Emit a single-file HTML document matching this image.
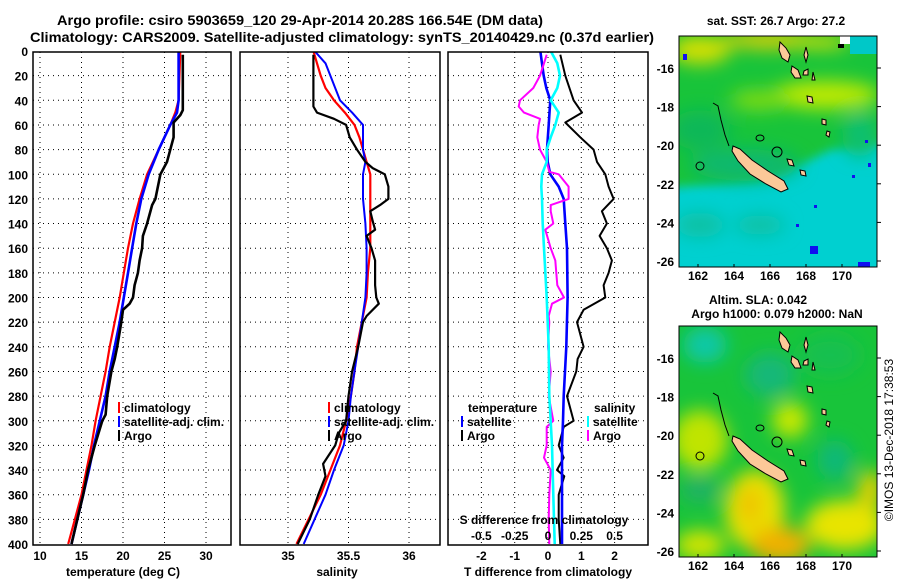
<!DOCTYPE html>
<html><head><meta charset="utf-8"><style>
body{margin:0;background:#fff;}
svg{display:block;font-family:"Liberation Sans",sans-serif;font-weight:bold;}
text{font-weight:bold;}
</style></head><body>
<svg id="fig" width="900" height="580" viewBox="0 0 900 580" xmlns="http://www.w3.org/2000/svg">
<defs>
<filter id="blur1" x="-50%" y="-50%" width="200%" height="200%"><feGaussianBlur stdDeviation="9"/></filter>
<filter id="blur2" x="-50%" y="-50%" width="200%" height="200%"><feGaussianBlur stdDeviation="5"/></filter>
<clipPath id="clipM1"><rect x="679" y="36" width="198" height="231"/></clipPath>
<clipPath id="clipM2"><rect x="679" y="326" width="198" height="231"/></clipPath>
<clipPath id="clipP1"><rect x="33" y="52" width="198" height="493"/></clipPath>
<clipPath id="clipP2"><rect x="240" y="52" width="200" height="493"/></clipPath>
<clipPath id="clipP3"><rect x="448" y="52" width="200" height="493"/></clipPath>
</defs>
<g>
<text x="300" y="25" font-size="14" text-anchor="middle" textLength="486" lengthAdjust="spacingAndGlyphs">Argo profile: csiro 5903659_120 29-Apr-2014 20.28S 166.54E (DM data)</text>
<text x="342" y="42" font-size="14" text-anchor="middle" textLength="624" lengthAdjust="spacingAndGlyphs">Climatology: CARS2009. Satellite-adjusted climatology: synTS_20140429.nc (0.37d earlier)</text>
</g>
<g id="grid"></g>
<g id="series"></g>
<g id="frames"></g>
<g id="labels" font-size="12"></g>

<!-- Map 1 -->
<g clip-path="url(#clipM1)">
<rect x="679" y="36" width="198" height="231" fill="#18c43a"/>
<g filter="url(#blur2)">
<polygon points="640,300 640,190 700,185 760,180 800,165 830,150 900,140 900,300" fill="#00d0d0"/>
</g>
<g filter="url(#blur1)">
<ellipse cx="700" cy="50" rx="30" ry="14" fill="#d8e000"/>
<ellipse cx="770" cy="40" rx="50" ry="8" fill="#f0d000"/>
<ellipse cx="820" cy="42" rx="30" ry="6" fill="#e8e000"/>
<ellipse cx="825" cy="95" rx="55" ry="14" fill="#c0ea00"/>
<ellipse cx="760" cy="100" rx="30" ry="10" fill="#80dc18"/>
<ellipse cx="700" cy="130" rx="30" ry="20" fill="#10b858"/>
<ellipse cx="745" cy="165" rx="55" ry="16" fill="#08b870"/>
<ellipse cx="860" cy="135" rx="18" ry="22" fill="#10c070"/>
<ellipse cx="700" cy="225" rx="25" ry="12" fill="#10c0a0"/>
<ellipse cx="760" cy="225" rx="25" ry="10" fill="#10c0a0"/>
</g>
<rect x="840" y="36" width="37" height="8" fill="#ffffff"/>
<rect x="850" y="36" width="27" height="18" fill="#00c8c8"/>
<rect x="838" y="44" width="6" height="4" fill="#000"/>
<rect x="683" y="54" width="4" height="6" fill="#1010f0"/>
<rect x="810" y="246" width="8" height="8" fill="#1010f0"/>
<rect x="858" y="262" width="12" height="5" fill="#1010f0"/>
<rect x="814" y="205" width="3" height="3" fill="#1010f0"/>
<rect x="796" y="224" width="3" height="3" fill="#1010f0"/>
<rect x="868" y="163" width="3" height="4" fill="#1010f0"/>
<rect x="852" y="175" width="3" height="3" fill="#1010f0"/>
<rect x="865" y="140" width="3" height="3" fill="#1010f0"/>
<g id="islands1"></g>
</g>
<rect x="679" y="36" width="198" height="231" fill="none" stroke="#000"/>
<text x="776" y="25" font-size="12" text-anchor="middle">sat. SST: 26.7 Argo: 27.2</text>

<!-- Map 2 -->
<g clip-path="url(#clipM2)">
<rect x="679" y="326" width="198" height="231" fill="#18c43a"/>
<g filter="url(#blur1)">
<ellipse cx="705" cy="345" rx="22" ry="18" fill="#10c8a8"/>
<ellipse cx="770" cy="375" rx="25" ry="22" fill="#12b878"/>
<ellipse cx="830" cy="355" rx="30" ry="20" fill="#18c050"/>
<ellipse cx="790" cy="420" rx="18" ry="18" fill="#c8e800"/>
<ellipse cx="700" cy="440" rx="28" ry="30" fill="#c0e400"/>
<ellipse cx="835" cy="460" rx="18" ry="20" fill="#10b878"/>
<ellipse cx="700" cy="490" rx="20" ry="12" fill="#20b068"/>
<ellipse cx="755" cy="510" rx="30" ry="40" fill="#e8e000"/>
<ellipse cx="780" cy="545" rx="30" ry="18" fill="#f0b000"/>
<ellipse cx="750" cy="505" rx="10" ry="18" fill="#f0c000"/>
<ellipse cx="845" cy="525" rx="40" ry="25" fill="#e8e400"/>
<ellipse cx="870" cy="490" rx="12" ry="20" fill="#e8d000"/>
<ellipse cx="700" cy="545" rx="25" ry="15" fill="#d0e400"/>
</g>
<g id="islands2"></g>
</g>
<rect x="679" y="326" width="198" height="231" fill="none" stroke="#000"/>
<text x="758" y="304" font-size="12" text-anchor="middle">Altim. SLA: 0.042</text>
<text x="777" y="318" font-size="12" text-anchor="middle">Argo h1000: 0.079 h2000: NaN</text>
<g id="maplabels" font-size="12"></g>
<text x="0" y="0" font-size="12" style="font-weight:normal" transform="translate(893,440) rotate(-90)" text-anchor="middle">©IMOS 13-Dec-2018 17:38:53</text>
</svg>
<script>
const depthTicks=[0,20,40,60,80,100,120,140,160,180,200,220,240,260,280,300,320,340,360,380,400];
const tempTicks=[10,15,20,25,30];
const salTicks=[35,35.5,36];
const salTickLabels=["35","35.5","36"];
const tdiffTicks=[-2,-1,0,1,2];
const sdiffTicks=[-0.5,-0.25,0,0.25,0.5];
const sdiffTickLabels=["-0.5","-0.25","0","0.25","0.5"];

const climDepth=[0,40,50,60,80,100,120,140,160,180,200,220,240,260,280,300,320,340,360,380,400];
const climTemp=[26.9,26.7,26.3,25.7,24.3,22.9,22.0,21.2,20.6,20.1,19.6,19.0,18.4,17.9,17.3,16.7,16.2,15.6,15.0,14.2,13.4];
const satTemp=[26.7,26.7,26.5,25.7,24.3,23.1,22.2,21.6,21.1,20.6,20.1,19.6,19.0,18.4,17.9,17.2,16.5,15.9,15.2,14.5,13.8];

const argoTDepth=[3,48,52,58,70,80,90,95,100,120,125,140,150,160,170,180,190,200,205,210,220,240,250,260,280,295,300,320,340,360,380,400];
const argoTemp=[27.2,27.2,26.9,26.1,26.1,25.7,25.3,24.9,24.5,23.9,23.5,22.9,22.4,22.3,22.0,21.8,21.4,21.2,20.8,20.0,19.8,19.3,19.0,18.6,18.1,17.9,17.5,16.6,15.8,15.2,14.5,13.8];

const climSDepth=[0,10,20,30,40,50,60,70,80,90,100,120,140,160,180,200,220,240,260,280,300,320,340,360,380,400];
const climSal=[35.21,35.24,35.27,35.31,35.38,35.47,35.55,35.59,35.62,35.65,35.68,35.68,35.68,35.68,35.66,35.65,35.61,35.57,35.55,35.52,35.48,35.43,35.35,35.27,35.17,35.07];
const satSDepth=[0,10,20,30,40,50,60,80,90,100,120,140,160,180,200,220,240,260,280,300,320,340,360,380,400];
const satSal=[35.22,35.31,35.35,35.39,35.43,35.53,35.62,35.62,35.64,35.62,35.62,35.64,35.65,35.65,35.64,35.61,35.58,35.55,35.52,35.5,35.46,35.38,35.31,35.22,35.13];
const argoSDepth=[3,45,50,55,60,70,80,90,95,100,110,120,125,130,138,145,150,160,170,190,200,205,215,220,240,260,280,300,310,320,335,345,360,380,400];
const argoSal=[35.21,35.21,35.24,35.38,35.48,35.51,35.57,35.64,35.70,35.80,35.83,35.83,35.76,35.68,35.70,35.72,35.65,35.69,35.72,35.72,35.73,35.75,35.65,35.62,35.58,35.53,35.50,35.48,35.42,35.39,35.29,35.31,35.25,35.18,35.08];

const satTdDepth=[0,20,30,40,60,80,90,100,110,120,140,160,200,240,280,300,320,360,400];
const satTdiff=[-0.23,-0.13,-0.05,0.07,0.02,-0.03,-0.01,0.07,0.32,0.47,0.52,0.57,0.59,0.55,0.47,0.45,0.42,0.42,0.42];
const argoTdDepth=[3,20,40,50,58,70,80,90,100,110,120,130,140,150,160,170,180,190,200,210,220,240,250,260,280,300,305,320,330,340,345,360,380,400];
const argoTdiff=[0.37,0.52,0.77,1.02,0.52,0.97,1.37,1.47,1.72,1.82,1.97,1.62,1.77,1.55,1.77,1.92,1.82,1.67,1.72,1.07,0.87,1.07,0.89,0.85,0.57,0.77,0.47,0.32,0.47,0.27,0.49,0.32,0.32,0.37];
const satSdDepth=[0,10,20,30,40,50,60,70,80,90,100,110,120,140,160,200,240,280,320,360,400];
const satSdiff=[0.02,0.07,0.09,0.07,0.02,0.08,0.055,0.02,-0.01,-0.01,-0.045,-0.05,-0.045,-0.04,-0.03,-0.01,0.005,0.01,0.03,0.04,0.05];
const argoSdDepth=[3,10,20,30,40,45,50,55,60,70,80,90,98,100,110,120,125,130,140,145,160,170,190,200,205,215,220,240,260,280,300,305,320,330,340,360,380,400];
const argoSdiff=[-0.01,-0.03,-0.06,-0.11,-0.21,-0.22,-0.18,-0.06,-0.07,-0.08,-0.06,-0.01,0.01,0.08,0.155,0.155,0.02,0.02,0.04,-0.02,0.02,0.055,0.07,0.12,0.03,0.005,0.01,-0.0,0.02,0.005,0.04,-0.01,-0.01,-0.03,0.02,0.01,0.005,0.01];

const mapLonTicks=[162,164,166,168,170];
const mapLatTicks=[-16,-18,-20,-22,-24,-26];

const NS='http://www.w3.org/2000/svg';
function yD(d){return 51+d*1.2325;}
function xT(t){return 40+(t-10)*8.3;}
function xS(s){return 288+(s-35)*121;}
function xTd(t){return 548+t*33.3;}
function xSd(s){return 548+s*133.2;}
function lon(x){return 698+(x-162)*18;}
function lat1(y){return 68+(-16-y)*19.3;}
function lat2(y){return 358+(-16-y)*19.3;}
function mk(tag,attrs,parent){const e=document.createElementNS(NS,tag);for(const k in attrs)e.setAttribute(k,attrs[k]);parent.appendChild(e);return e;}
const grid=document.getElementById('grid'),series=document.getElementById('series'),frames=document.getElementById('frames'),labels=document.getElementById('labels');
const panels=[{x:33,w:198,name:'temperature-panel',vt:tempTicks.map(xT)},{x:240,w:200,name:'salinity-panel',vt:salTicks.map(xS)},{x:448,w:200,name:'difference-panel',vt:tdiffTicks.map(xTd)}];
panels.forEach(p=>{
  depthTicks.forEach(d=>{if(d>0&&d<400){const l=mk('line',{x1:p.x,x2:p.x+p.w,y1:yD(d),y2:yD(d),stroke:'#000','stroke-dasharray':'1,4'},grid);
    
    }});
  p.vt.forEach(x=>{const l=mk('line',{x1:x,x2:x,y1:52,y2:545,stroke:'#000','stroke-dasharray':'1,4'},grid);
    
    });
  const r=mk('rect',{x:p.x,y:52,width:p.w,height:493,fill:'none',stroke:'#000','stroke-width':1.5},frames);
  
  
});
function txt(s,x,y,anchor,name,parent,extra){const t=mk('text',Object.assign({x:x,y:y,'text-anchor':anchor},extra||{}),parent||labels);t.textContent=s;
  
  
  return t;}
depthTicks.forEach(d=>txt(String(d),28,yD(d)+5,'end','depth-tick-label'));
tempTicks.forEach(t=>txt(String(t),xT(t),560,'middle','temperature-tick-label'));
salTicks.forEach((s,i)=>txt(salTickLabels[i],xS(s),560,'middle','salinity-tick-label'));
tdiffTicks.forEach(t=>txt(String(t),xTd(t),560,'middle','tdiff-tick-label'));
sdiffTicks.forEach((s,i)=>txt(sdiffTickLabels[i],xSd(s),540,'middle','sdiff-tick-label'));
txt('S difference from climatology',544,524,'middle','sdiff-axis-title');
txt('temperature (deg C)',123,576,'middle','temperature-axis-title');
txt('salinity',337,576,'middle','salinity-axis-title');
txt('T difference from climatology',548,576,'middle','tdiff-axis-title');
function line(xs,ds,fx,color,w,name,clip){
  const pts=xs.map((v,i)=>fx(v).toFixed(1)+','+yD(ds[i]).toFixed(1)).join(' ');
  const p=mk('polyline',{points:pts,fill:'none',stroke:color,'stroke-width':w,'clip-path':'url(#'+clip+')','stroke-linejoin':'round'},series);
  
  
}
line(climTemp,climDepth,xT,'#f00',2.2,'clim-temperature-line','clipP1');
line(satTemp,climDepth,xT,'#00f',2.6,'satellite-temperature-line','clipP1');
line(argoTemp,argoTDepth,xT,'#000',2.6,'argo-temperature-line','clipP1');
line(climSal,climSDepth,xS,'#f00',2.2,'clim-salinity-line','clipP2');
line(satSal,satSDepth,xS,'#00f',2,'satellite-salinity-line','clipP2');
line(argoSal,argoSDepth,xS,'#000',2.2,'argo-salinity-line','clipP2');
line(argoTdiff,argoTdDepth,xTd,'#000',2,'argo-tdiff-line','clipP3');
line(satTdiff,satTdDepth,xTd,'#00f',2.6,'satellite-tdiff-line','clipP3');
line(argoSdiff,argoSdDepth,xSd,'#f0f',2,'argo-sdiff-line','clipP3');
line(satSdiff,satSdDepth,xSd,'#0ff',2.6,'satellite-sdiff-line','clipP3');
function legend(x,y,color,label,name){
  const r=mk('rect',{x:x,y:y-10,width:2,height:11,fill:color},labels);
  
  
  txt(label,x+6,y,'start',name);
}
legend(118,412,'#f00','climatology','legend-climatology');
legend(118,426,'#00f','satellite-adj. clim.','legend-satellite-adj');
legend(118,440,'#000','Argo','legend-argo');
legend(328,412,'#f00','climatology','legend-climatology-s');
legend(328,426,'#00f','satellite-adj. clim.','legend-satellite-adj-s');
legend(328,440,'#000','Argo','legend-argo-s');
txt('temperature',468,412,'start','legend-temperature-heading');
legend(461,426,'#00f','satellite','legend-t-satellite');
legend(461,440,'#000','Argo','legend-t-argo');
txt('salinity',594,412,'start','legend-salinity-heading');
legend(587,426,'#0ff','satellite','legend-s-satellite');
legend(587,440,'#f0f','Argo','legend-s-argo');
const ml=document.getElementById('maplabels');
[[lat1,280],[lat2,570]].forEach(([lf,ly])=>{
  mapLonTicks.forEach(v=>{txt(String(v),lon(v),ly,'middle','map-lon-label',ml);
    const t=mk('line',{x1:lon(v),x2:lon(v),y1:ly-16,y2:ly-13,stroke:'#000'},ml);
    
    });
  mapLatTicks.forEach(v=>{txt(String(v),674,lf(v)+5,'end','map-lat-label',ml);
    const t=mk('line',{x1:877,x2:881,y1:lf(v),y2:lf(v),stroke:'#000'},ml);
    
    });
});
function islands(g,off){
  const ncal='733,146 740,149 752,160 768,171 784,181 788,189 781,192 766,184 750,174 738,161 732,151';
  const polys=[ncal,'780,42 786,48 790,55 788,62 782,58 779,50','792,66 798,70 801,78 795,78 791,72',
   '804,71 808,69 808,75 803,75','807,96 812,97 813,103 808,102','822,119 826,120 826,125 822,124',
   '827,131 830,132 829,137 826,135','787,159 792,160 794,166 789,165','800,170 805,171 806,176 801,175','806,47 808,55 806,62 804,55','813,72 815,80 812,80'];
  polys.forEach(pp=>{const pts=pp.split(' ').map(q=>{const a=q.split(',');return a[0]+','+(+a[1]+off);}).join(' ');
    const e=mk('polygon',{points:pts,fill:'#fcc898',stroke:'#000','stroke-width':1},g);
    
    });
  const reef=mk('polyline',{points:[[713,103],[718,106],[721,120],[725,135],[729,146]].map(a=>a[0]+','+(a[1]+off)).join(' '),fill:'none',stroke:'#000','stroke-width':1},g);
  
  
  const c=mk('circle',{cx:777,cy:152+off,r:5,fill:'none',stroke:'#000'},g);
  
  
  const c2=mk('ellipse',{cx:760,cy:138+off,rx:4,ry:3,fill:'none',stroke:'#000'},g);
  
  
  const c3=mk('ellipse',{cx:700,cy:166+off,rx:4,ry:4,fill:'none',stroke:'#000'},g);
  
  
}
islands(document.getElementById('islands1'),0);
islands(document.getElementById('islands2'),290);
</script>
</body></html>
